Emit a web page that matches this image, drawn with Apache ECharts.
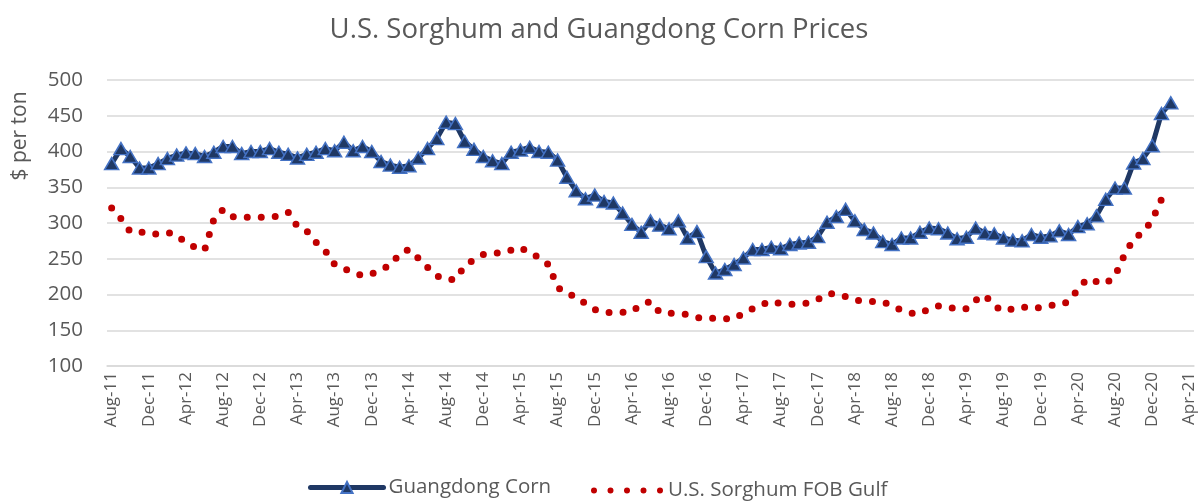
<!DOCTYPE html>
<html>
<head>
<meta charset="utf-8">
<script src="https://cdn.jsdelivr.net/npm/echarts@6/dist/echarts.min.js"></script>
<style>
  html, body { margin: 0; padding: 0; background: #fff; }
  #chart { width: 1198px; height: 502px; }
</style>
</head>
<body>
<div id="chart"></div>
<script>
// month labels, Aug-11 .. Apr-21
var categories = [
  'Aug-11','Sep-11','Oct-11','Nov-11','Dec-11',
  'Jan-12','Feb-12','Mar-12','Apr-12','May-12','Jun-12','Jul-12','Aug-12','Sep-12','Oct-12','Nov-12','Dec-12',
  'Jan-13','Feb-13','Mar-13','Apr-13','May-13','Jun-13','Jul-13','Aug-13','Sep-13','Oct-13','Nov-13','Dec-13',
  'Jan-14','Feb-14','Mar-14','Apr-14','May-14','Jun-14','Jul-14','Aug-14','Sep-14','Oct-14','Nov-14','Dec-14',
  'Jan-15','Feb-15','Mar-15','Apr-15','May-15','Jun-15','Jul-15','Aug-15','Sep-15','Oct-15','Nov-15','Dec-15',
  'Jan-16','Feb-16','Mar-16','Apr-16','May-16','Jun-16','Jul-16','Aug-16','Sep-16','Oct-16','Nov-16','Dec-16',
  'Jan-17','Feb-17','Mar-17','Apr-17','May-17','Jun-17','Jul-17','Aug-17','Sep-17','Oct-17','Nov-17','Dec-17',
  'Jan-18','Feb-18','Mar-18','Apr-18','May-18','Jun-18','Jul-18','Aug-18','Sep-18','Oct-18','Nov-18','Dec-18',
  'Jan-19','Feb-19','Mar-19','Apr-19','May-19','Jun-19','Jul-19','Aug-19','Sep-19','Oct-19','Nov-19','Dec-19',
  'Jan-20','Feb-20','Mar-20','Apr-20','May-20','Jun-20','Jul-20','Aug-20','Sep-20','Oct-20','Nov-20','Dec-20',
  'Jan-21','Feb-21','Mar-21','Apr-21'
];

// $ per ton, Aug-11 .. Feb-21
var guangdongCorn = [
  383,404,393,377,377,
  383,390,395,398,397,393,399,407,407,397,400,400,
  404,399,396,391,396,399,404,401,413,401,407,400,
  386,381,378,380,391,404,418,441,439,414,403,393,
  387,383,399,402,406,400,399,388,364,345,334,339,
  330,328,314,298,287,303,297,292,303,279,288,253,
  230,235,242,251,263,263,266,264,270,272,273,281,
  301,309,319,303,291,286,274,270,279,279,287,293,
  292,286,278,280,293,286,285,279,276,275,284,280,
  282,289,284,295,299,310,333,349,349,384,390,408,
  453,468
];

// $ per ton, Aug-11 .. Jan-21
var usSorghumFob = [
  321,306,288,288,284,
  285,287,283,272,266,262,305,319,309,308,308,308,
  308,310,315,295,289,273,261,242,236,231,226,229,
  235,241,257,263,251,238,226,221,221,240,249,256,
  258,258,262,266,258,252,242,210,201,197,187,179,
  175,175,175,176,186,190,175,174,173,172,168,166,
  167,166,166,174,180,186,191,187,186,187,188,193,
  201,201,197,192,191,190,190,184,178,174,173,180,
  184,183,179,180,192,199,184,177,180,183,180,182,
  185,185,190,207,222,218,215,226,255,278,287,304,
  333
];

var yMin = 100, yMax = 500, yStep = 50;

var textGrey = '#595959';
var gridGrey = '#d9d9d9';
var font = 'Open Sans';
var legendFont = { fontFamily: font, fontSize: 20.5, color: textGrey };

// five round dots for the sorghum legend key
var dotsIcon = 'path://M0,3a3,3 0 1,0 6,0a3,3 0 1,0 -6,0z' +
  'M16.5,3a3,3 0 1,0 6,0a3,3 0 1,0 -6,0z' +
  'M33,3a3,3 0 1,0 6,0a3,3 0 1,0 -6,0z' +
  'M49.5,3a3,3 0 1,0 6,0a3,3 0 1,0 -6,0z' +
  'M66,3a3,3 0 1,0 6,0a3,3 0 1,0 -6,0z';

var chart = echarts.init(document.getElementById('chart'));
var option = {
  animation: false,
  backgroundColor: '#fff',
  textStyle: { fontFamily: font, color: textGrey },
  title: {
    text: 'U.S. Sorghum and Guangdong Corn Prices',
    left: 'center',
    top: 11,
    textStyle: { fontFamily: font, fontSize: 27.5, fontWeight: 'normal', color: textGrey }
  },
  legend: [
    {
      left: 308,
      top: 477,
      padding: 0,
      itemWidth: 73,
      itemHeight: 14,
      itemGap: 6,
      lineStyle: { width: 5, cap: 'round' },
      textStyle: legendFont,
      data: ['Guangdong Corn']
    },
    {
      left: 591,
      top: 480,
      padding: 0,
      itemWidth: 72,
      itemHeight: 6,
      textStyle: legendFont,
      data: [{ name: 'U.S. Sorghum FOB Gulf', icon: dotsIcon }]
    }
  ],
  grid: {
    left: 107,
    right: 4,
    top: 80,
    bottom: 136
  },
  graphic: [{
    type: 'text',
    x: 20,
    y: 136,
    rotation: Math.PI / 2,
    style: {
      text: '$ per ton',
      fontFamily: font,
      fontSize: 21,
      fill: textGrey,
      align: 'center',
      verticalAlign: 'middle'
    }
  }],
  xAxis: {
    type: 'category',
    data: categories,
    boundaryGap: true,
    axisLine: { lineStyle: { color: gridGrey, width: 1.5 } },
    axisTick: { interval: 3, length: 6, lineStyle: { color: gridGrey, width: 1.5 } },
    axisLabel: {
      interval: 3,
      rotate: 90,
      margin: 6,
      fontFamily: font,
      fontSize: 17,
      color: textGrey
    },
    splitLine: { show: false }
  },
  yAxis: {
    type: 'value',
    min: yMin,
    max: yMax,
    interval: yStep,
    axisLine: { show: false },
    axisTick: { show: false },
    axisLabel: { margin: 24, fontFamily: font, fontSize: 20.5, color: textGrey },
    splitLine: { lineStyle: { color: gridGrey, width: 1.5 } }
  },
  series: [
    {
      name: 'Guangdong Corn',
      type: 'line',
      data: guangdongCorn,
      symbol: 'triangle',
      symbolSize: [14, 12],
      showAllSymbol: true,
      lineStyle: { color: '#1f3864', width: 5, cap: 'round', join: 'round' },
      itemStyle: { color: '#1f3864', borderColor: '#4472c4', borderWidth: 1.5 },
      z: 3
    },
    {
      name: 'U.S. Sorghum FOB Gulf',
      type: 'line',
      data: usSorghumFob,
      symbol: 'none',
      lineStyle: { color: '#c00000', width: 7, type: [0, 14], cap: 'round' },
      itemStyle: { color: '#c00000' },
      z: 2
    }
  ]
};
chart.setOption(option);
</script>
</body>
</html>
